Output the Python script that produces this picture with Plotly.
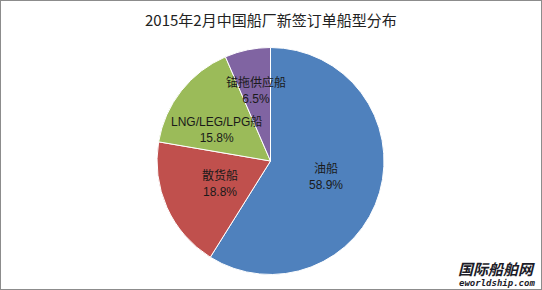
import math
import plotly.graph_objects as go

labels = ["油船", "散货船", "LNG/LEG/LPG船", "锚拖供应船"]
values = [58.9, 18.8, 15.8, 6.5]
colors = ["#4F81BD", "#C0504D", "#9BBB59", "#8064A2"]
title = "2015年2月中国船厂新签订单船型分布"

W, H = 542, 290
cx, cy, r = 270.5, 161, 113.5
label_radius = [0.51, 0.49, 0.55, 0.63]   # fraction of radius where each label sits
label_turn = [0, 0, -8, 0]                 # small angular nudge (degrees) of each label

fig = go.Figure(go.Pie(
    labels=labels, values=values,
    sort=False, direction="clockwise", rotation=0,
    marker=dict(colors=colors, line=dict(color="white", width=1)),
    textinfo="none",
    domain=dict(x=[(cx - r) / W, (cx + r) / W], y=[(H - cy - r) / H, (H - cy + r) / H]),
    showlegend=False, hoverinfo="label+percent",
))

annotations = [
    dict(text=title, x=0.5, y=1 - 19 / H, xref="paper", yref="paper",
         xanchor="center", yanchor="middle",
         showarrow=False, font=dict(family="Noto Sans CJK SC, sans-serif", size=15, color="#222")),
    dict(text="<b><i>国际船舶网</i></b>", x=1 - 5 / W, y=1 - 268 / H, xref="paper", yref="paper",
         xanchor="right", yanchor="middle", showarrow=False,
         font=dict(family="Noto Sans CJK SC, sans-serif", size=15, color="#1c1c28")),
    dict(text="<b><i>eworldship.com</i></b>", x=1 - 5 / W, y=1 - 283 / H, xref="paper", yref="paper",
         xanchor="right", yanchor="middle", showarrow=False,
         font=dict(family="DejaVu Sans Mono, monospace", size=9, color="#1c1c28")),
]

total = sum(values)
cum = 0.0
for lab, v, f, t in zip(labels, values, label_radius, label_turn):
    mid = (cum + v / 2) / total * 2 * math.pi + math.radians(t)
    cum += v
    px = cx + f * r * math.sin(mid)
    py = cy - f * r * math.cos(mid)
    annotations.append(dict(
        text=f"{lab}<br>{v:.1f}%", x=px / W, y=1 - py / H, xref="paper", yref="paper",
        xanchor="center", yanchor="middle",
        showarrow=False, align="center",
        font=dict(family="Liberation Sans, Noto Sans CJK SC, sans-serif", size=12, color="#1a1a1a"),
    ))

fig.update_layout(
    width=W, height=H,
    margin=dict(l=0, r=0, t=0, b=0),
    paper_bgcolor="white",
    annotations=annotations,
    shapes=[dict(type="rect", xref="paper", yref="paper", x0=0, y0=0, x1=1, y1=1,
                 line=dict(color="#8c8c8c", width=2))],
)

fig.write_html("out.html")
